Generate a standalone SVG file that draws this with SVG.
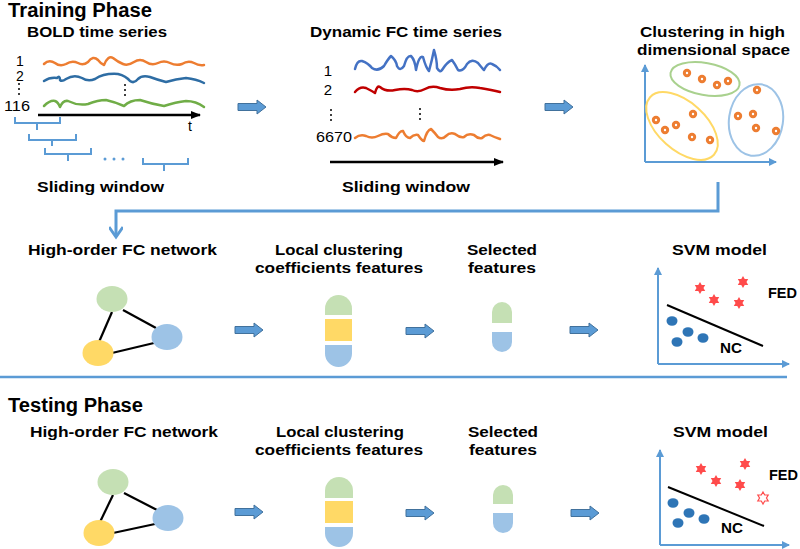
<svg xmlns="http://www.w3.org/2000/svg" xmlns:xlink="http://www.w3.org/1999/xlink" width="800" height="549" viewBox="0 0 800 549">
<style>
text{font-family:"Liberation Sans",Arial,sans-serif;fill:#000}
.h1{font-size:20px;font-weight:bold}
.lb{font-size:14px;font-weight:bold}
.num{font-size:14px}
.wave{fill:none;stroke-width:2.5;stroke-linecap:round;stroke-linejoin:round}
.br{fill:none;stroke:#5B9BD5;stroke-width:2}
.ax{fill:none;stroke:#5B9BD5;stroke-width:2}
.edge{stroke:#000;stroke-width:2.2}
.g{fill:#C5E0B4}.y{fill:#FFD966}.b{fill:#9DC3E6}
.blk{fill:#5B9BD5;stroke:#41719C;stroke-width:1}
.dot{fill:#2E75B6}
.conn{fill:none;stroke:#5B9BD5;stroke-width:3}
</style>
<defs>
<marker id="ah" markerWidth="8" markerHeight="8" refX="7" refY="4" orient="auto" markerUnits="userSpaceOnUse"><path d="M0,0 L8,4 L0,8 Z" fill="#5B9BD5"/></marker>
<marker id="ahk" markerWidth="10" markerHeight="10" refX="9" refY="5" orient="auto" markerUnits="userSpaceOnUse"><path d="M0,1 L10,5 L0,9 Z" fill="#000"/></marker>
<marker id="chev" markerWidth="18" markerHeight="14" refX="11" refY="7" orient="auto" markerUnits="userSpaceOnUse"><path d="M1,0 L11,7 L1,14" fill="none" stroke="#5B9BD5" stroke-width="3"/></marker>
<path id="barrow" class="blk" d="M0,-3.5 H19 V-7 L28,0 L19,7 V3.5 H0 Z"/>
<polygon id="star" points="0,-6 1.73,-3 5.2,-3 3.46,0 5.2,3 1.73,3 0,6 -1.73,3 -5.2,3 -3.46,0 -5.2,-3 -1.73,-3"/>
<g id="odot"><circle r="4.2" fill="#ED7D31"/><circle r="1.2" fill="#fff"/></g>
<g id="vdots" fill="#000"><circle cx="0" cy="-5" r="1"/><circle cx="0" cy="0" r="1"/><circle cx="0" cy="5" r="1"/></g>
</defs>

<text class="h1" x="8" y="17" textLength="144" lengthAdjust="spacingAndGlyphs">Training Phase</text>

<g id="bold-series">
<text class="lb" x="27" y="37" textLength="140" lengthAdjust="spacingAndGlyphs">BOLD time series</text>
<text class="num" x="20" y="66" text-anchor="middle">1</text>
<text class="num" x="20" y="81" text-anchor="middle">2</text>
<use href="#vdots" x="19" y="89"/>
<text class="num" x="4" y="111" textLength="26" lengthAdjust="spacingAndGlyphs">116</text>
<path class="wave" stroke="#ED7D31" d="M44,64 Q49,59 55,63 Q60,67 66,64 Q72,60 78,63 Q83,66 88,62 Q93,55 98,60 Q101,64 104,65 Q108,55 113,58 Q118,62 123,64 Q128,66 134,62 Q140,58 146,62 Q152,66 158,63 Q164,60 170,63 Q176,66 182,64 Q188,60 194,63 Q199,66 204,65"/>
<path class="wave" stroke="#2E6DA4" d="M44,81 Q50,77 57,78 Q60,75 60,80 Q62,82 66,79 Q74,74 82,78 Q88,82 95,79 Q104,73 118,74 Q126,76 130,81 Q134,84 138,79 Q142,75 150,77 Q158,80 166,82 Q176,79 186,78 Q196,79 204,83"/>
<path class="wave" stroke="#70AD47" d="M44,106 Q50,100 55,101 Q58,102 60,107 Q63,100 68,101 Q78,106 88,104 Q98,100 106,100 Q115,102 124,106 Q130,100 140,100 Q152,104 164,106 Q176,102 186,101 Q196,101 204,107"/>
<use href="#vdots" x="125" y="90"/>
<line x1="38" y1="115" x2="200" y2="115" stroke="#000" stroke-width="2.5" marker-end="url(#ahk)"/>
<text class="num" x="188" y="131">t</text>
<path class="br" d="M15,117 V123 H60 V117 M37,123 V130"/>
<path class="br" d="M29,134 V140 H76 V134 M52,140 V146"/>
<path class="br" d="M45,148 V154 H91 V148 M68,154 V161"/>
<path class="br" d="M143,158 V164 H188 V158 M164,164 V171"/>
<g fill="#5B9BD5"><circle cx="105" cy="159" r="1.5"/><circle cx="114" cy="159" r="1.5"/><circle cx="123" cy="159" r="1.5"/></g>
<text class="lb" x="37" y="192" textLength="127" lengthAdjust="spacingAndGlyphs">Sliding window</text>
</g>

<g id="dfc-series">
<text class="lb" x="310" y="37" textLength="192" lengthAdjust="spacingAndGlyphs">Dynamic FC time series</text>
<text class="num" x="328" y="76" text-anchor="middle" style="font-size:15px">1</text>
<text class="num" x="328" y="95" text-anchor="middle" style="font-size:15px">2</text>
<use href="#vdots" x="331" y="115"/>
<use href="#vdots" x="420" y="114"/>
<text class="num" x="316" y="142" textLength="36" lengthAdjust="spacingAndGlyphs" style="font-size:15px">6670</text>
<path class="wave" stroke="#4472C4" d="M355,69 Q357,60 362,61 Q368,63 372,68 Q378,72 384,66 Q388,59 391,56 Q396,60 397,66 Q400,72 404,66 Q407,55 411,56 Q415,60 416,70 Q419,55 423,57 Q426,68 429,71 Q432,60 434,50 Q437,60 437,68 Q440,73 442,70 Q447,62 452,60 Q455,64 458,70 Q463,72 467,64 Q472,58 478,63 Q482,68 484,70 Q488,62 492,64 Q497,66 500,70"/>
<path class="wave" stroke="#C00000" d="M355,92 Q360,86 366,88 Q372,91 375,93 Q377,85 380,87 Q386,92 395,90 Q405,88 412,90 Q418,93 425,89 Q432,85 440,88 Q450,91 460,89 Q470,86 480,88 Q492,90 500,92"/>
<path class="wave" stroke="#ED7D31" d="M355,138 Q360,134 366,136 Q372,139 378,136 Q384,133 388,134 Q392,138 396,138 Q400,130 403,131 Q406,138 410,138 Q414,134 418,135 Q422,141 424,141 Q427,130 431,129 Q435,133 438,137 Q442,140 446,136 Q450,132 455,134 Q460,138 464,137 Q468,133 474,135 Q478,139 482,138 Q486,134 490,135 Q494,137 500,139"/>
<line x1="330" y1="162" x2="503" y2="162" stroke="#000" stroke-width="2.5" marker-end="url(#ahk)"/>
<text class="lb" x="342" y="192" textLength="128" lengthAdjust="spacingAndGlyphs">Sliding window</text>
</g>

<g id="clustering">
<text class="lb" x="640" y="37" textLength="145" lengthAdjust="spacingAndGlyphs">Clustering in high</text>
<text class="lb" x="637" y="55" textLength="153" lengthAdjust="spacingAndGlyphs">dimensional space</text>
<path class="ax" d="M645,162 V65" marker-end="url(#ah)"/>
<path class="ax" d="M645,162 H776" marker-end="url(#ah)"/>
<ellipse cx="705" cy="79" rx="35" ry="16" transform="rotate(10 705 79)" fill="none" stroke="#A9D18E" stroke-width="2"/>
<ellipse cx="682" cy="126" rx="43" ry="24" transform="rotate(42 682 126)" fill="none" stroke="#FFD966" stroke-width="2"/>
<ellipse cx="756" cy="120" rx="27" ry="36" transform="rotate(8 756 120)" fill="none" stroke="#9DC3E6" stroke-width="2"/>
<use href="#odot" x="687" y="73"/><use href="#odot" x="702" y="79"/><use href="#odot" x="717" y="85"/><use href="#odot" x="728" y="81"/>
<use href="#odot" x="656" y="120"/><use href="#odot" x="665" y="130"/><use href="#odot" x="676" y="125"/><use href="#odot" x="693" y="114"/><use href="#odot" x="692" y="137"/><use href="#odot" x="710" y="140"/>
<use href="#odot" x="757" y="90"/><use href="#odot" x="738" y="116"/><use href="#odot" x="753" y="114"/><use href="#odot" x="756" y="128"/><use href="#odot" x="776" y="131"/>
</g>

<g id="connectors">
<use href="#barrow" x="238" y="107"/>
<use href="#barrow" x="545" y="107"/>
<path class="conn" d="M718,182 V211 H116 V237" marker-end="url(#chev)"/>
<use href="#barrow" x="235" y="330"/>
<use href="#barrow" x="406" y="331"/>
<use href="#barrow" x="570" y="330"/>
<line x1="0" y1="377" x2="787" y2="377" stroke="#5B9BD5" stroke-width="2.5"/>
<use href="#barrow" x="235" y="512"/>
<use href="#barrow" x="406" y="513"/>
<use href="#barrow" x="571" y="513"/>
</g>

<g id="train-network">
<text class="lb" x="28" y="255" textLength="189" lengthAdjust="spacingAndGlyphs">High-order FC network</text>
<line class="edge" x1="123" y1="310" x2="156" y2="328"/>
<line class="edge" x1="112" y1="312" x2="99" y2="342"/>
<line class="edge" x1="112" y1="353" x2="154" y2="343"/>
<ellipse class="g" cx="112" cy="299" rx="15.5" ry="13"/>
<ellipse class="b" cx="167" cy="337" rx="15.5" ry="13"/>
<ellipse class="y" cx="98" cy="353" rx="15.5" ry="13"/>
</g>

<g id="train-lcc">
<text class="lb" x="275" y="255" textLength="128" lengthAdjust="spacingAndGlyphs">Local clustering</text>
<text class="lb" x="255" y="273" textLength="168" lengthAdjust="spacingAndGlyphs">coefficients features</text>
<path class="g" d="M325,315 V308.5 A13.5,13.5 0 0 1 352,308.5 V315 Z"/>
<rect class="y" x="325" y="319" width="27" height="22"/>
<path class="b" d="M325,345 H352 V353.5 A13.5,13.5 0 0 1 325,353.5 Z"/>
</g>

<g id="train-selected">
<text class="lb" x="467" y="255" textLength="70" lengthAdjust="spacingAndGlyphs">Selected</text>
<text class="lb" x="468" y="273" textLength="68" lengthAdjust="spacingAndGlyphs">features</text>
<path class="g" d="M492,323 V312 A10,10 0 0 1 512,312 V323 Z"/>
<path class="b" d="M492,332 H512 V342 A10,10 0 0 1 492,342 Z"/>
</g>

<g id="train-svm">
<text class="lb" x="672" y="255" textLength="95" lengthAdjust="spacingAndGlyphs">SVM model</text>
<path class="ax" d="M658,364 V268" marker-end="url(#ah)"/>
<path class="ax" d="M658,364 H789" marker-end="url(#ah)"/>
<g fill="#FF4B4B"><use href="#star" x="700" y="288"/><use href="#star" x="743" y="282"/><use href="#star" x="714" y="300"/><use href="#star" x="739" y="303"/></g>
<line x1="667" y1="305" x2="763" y2="346" stroke="#000" stroke-width="2"/>
<g class="dot"><ellipse cx="672" cy="321" rx="5.5" ry="4.8"/><ellipse cx="688" cy="332" rx="5.5" ry="4.8"/><ellipse cx="677" cy="342" rx="5.5" ry="4.8"/><ellipse cx="703" cy="338" rx="5.5" ry="4.8"/></g>
<text class="lb" x="768" y="298" textLength="29" lengthAdjust="spacingAndGlyphs">FED</text>
<text class="lb" x="720" y="353" textLength="22" lengthAdjust="spacingAndGlyphs">NC</text>
</g>

<text class="h1" x="8" y="412" textLength="135" lengthAdjust="spacingAndGlyphs">Testing Phase</text>

<g id="test-network">
<text class="lb" x="30" y="437" textLength="188" lengthAdjust="spacingAndGlyphs">High-order FC network</text>
<line class="edge" x1="124" y1="493" x2="157" y2="510"/>
<line class="edge" x1="113" y1="495" x2="100" y2="522"/>
<line class="edge" x1="113" y1="533" x2="155" y2="524"/>
<ellipse class="g" cx="113" cy="482" rx="15.5" ry="13"/>
<ellipse class="b" cx="168" cy="518" rx="15.5" ry="13"/>
<ellipse class="y" cx="99" cy="533" rx="15.5" ry="13"/>
</g>

<g id="test-lcc">
<text class="lb" x="276" y="437" textLength="128" lengthAdjust="spacingAndGlyphs">Local clustering</text>
<text class="lb" x="255" y="455" textLength="168" lengthAdjust="spacingAndGlyphs">coefficients features</text>
<path class="g" d="M325,498 V491 A14,14 0 0 1 353,491 V498 Z"/>
<rect class="y" x="325" y="501" width="28" height="22"/>
<path class="b" d="M325,527 H353 V533 A14,14 0 0 1 325,533 Z"/>
</g>

<g id="test-selected">
<text class="lb" x="468" y="437" textLength="70" lengthAdjust="spacingAndGlyphs">Selected</text>
<text class="lb" x="469" y="455" textLength="68" lengthAdjust="spacingAndGlyphs">features</text>
<path class="g" d="M493,504 V495 A10,10 0 0 1 513,495 V504 Z"/>
<path class="b" d="M493,513 H513 V523 A10,10 0 0 1 493,523 Z"/>
</g>

<g id="test-svm">
<text class="lb" x="673" y="437" textLength="95" lengthAdjust="spacingAndGlyphs">SVM model</text>
<path class="ax" d="M660,545 V450" marker-end="url(#ah)"/>
<path class="ax" d="M660,545 H789" marker-end="url(#ah)"/>
<g fill="#FF4B4B"><use href="#star" x="701" y="469"/><use href="#star" x="745" y="464"/><use href="#star" x="716" y="481"/><use href="#star" x="740" y="485"/></g>
<use href="#star" x="763" y="498" fill="#fff" stroke="#FF4B4B" stroke-width="1.2"/>
<line x1="668" y1="487" x2="764" y2="526" stroke="#000" stroke-width="2"/>
<g class="dot"><ellipse cx="673" cy="503" rx="5.5" ry="4.8"/><ellipse cx="689" cy="513" rx="5.5" ry="4.8"/><ellipse cx="678" cy="523" rx="5.5" ry="4.8"/><ellipse cx="704" cy="519" rx="5.5" ry="4.8"/></g>
<text class="lb" x="769" y="480" textLength="29" lengthAdjust="spacingAndGlyphs">FED</text>
<text class="lb" x="721" y="533" textLength="22" lengthAdjust="spacingAndGlyphs">NC</text>
</g>
</svg>
